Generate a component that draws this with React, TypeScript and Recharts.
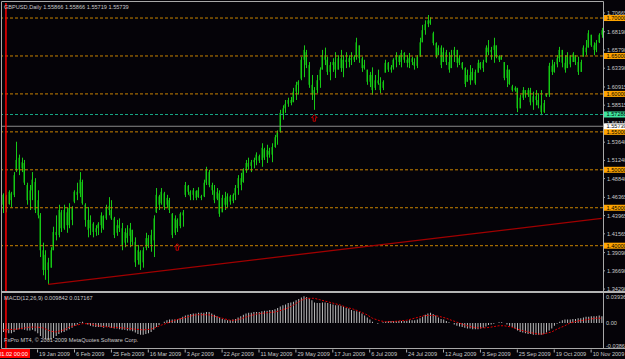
import { ComposedChart, Bar, Line, XAxis, YAxis, ReferenceLine, ReferenceDot } from 'recharts';

// GBPUSD daily, ~2009.01.01 .. 2009.11.16 (one entry per bar)
const highs = [
  1.469, 1.467, 1.473, 1.471, 1.497, 1.537, 1.520, 1.516, 1.513, 1.483,
  1.480, 1.497, 1.489, 1.473, 1.443, 1.404, 1.394, 1.384, 1.398, 1.425,
  1.440, 1.454, 1.447, 1.454, 1.450, 1.456, 1.452, 1.473, 1.483, 1.497,
  1.487, 1.456, 1.451, 1.440, 1.431, 1.427, 1.431, 1.444, 1.440, 1.454,
  1.464, 1.460, 1.438, 1.434, 1.436, 1.430, 1.423, 1.427, 1.430, 1.421,
  1.411, 1.401, 1.394, 1.398, 1.417, 1.414, 1.421, 1.440, 1.476, 1.467,
  1.476, 1.471, 1.467, 1.463, 1.443, 1.440, 1.436, 1.444, 1.447, 1.484,
  1.480, 1.473, 1.476, 1.473, 1.477, 1.467, 1.487, 1.504, 1.500, 1.483,
  1.480, 1.476, 1.473, 1.467, 1.471, 1.469, 1.467, 1.469, 1.480, 1.493,
  1.496, 1.502, 1.513, 1.516, 1.513, 1.516, 1.523, 1.520, 1.535, 1.529,
  1.533, 1.529, 1.535, 1.546, 1.552, 1.579, 1.585, 1.592, 1.595, 1.596,
  1.608, 1.616, 1.618, 1.649, 1.664, 1.658, 1.642, 1.625, 1.609, 1.625,
  1.635, 1.658, 1.661, 1.649, 1.642, 1.647, 1.655, 1.651, 1.658, 1.651,
  1.655, 1.651, 1.655, 1.651, 1.674, 1.664, 1.649, 1.645, 1.632, 1.629,
  1.635, 1.625, 1.632, 1.622, 1.618, 1.645, 1.642, 1.638, 1.647, 1.655,
  1.651, 1.658, 1.655, 1.651, 1.654, 1.649, 1.647, 1.651, 1.674, 1.691,
  1.697, 1.704, 1.701, 1.682, 1.668, 1.664, 1.664, 1.661, 1.658, 1.655,
  1.658, 1.662, 1.658, 1.651, 1.642, 1.635, 1.632, 1.638, 1.634, 1.632,
  1.645, 1.642, 1.645, 1.664, 1.671, 1.662, 1.674, 1.664, 1.651, 1.651,
  1.642, 1.638, 1.632, 1.612, 1.610, 1.608, 1.599, 1.609, 1.605, 1.608,
  1.608, 1.603, 1.605, 1.601, 1.605, 1.592, 1.601, 1.641, 1.645, 1.642,
  1.651, 1.662, 1.658, 1.651, 1.655, 1.651, 1.655, 1.651, 1.649, 1.645,
  1.664, 1.671, 1.684, 1.678, 1.668, 1.671, 1.680, 1.687,
];
const lows = [
  1.443, 1.444, 1.454, 1.451, 1.464, 1.497, 1.493, 1.497, 1.480, 1.454,
  1.447, 1.460, 1.443, 1.436, 1.385, 1.361, 1.355, 1.349, 1.371, 1.394,
  1.407, 1.411, 1.418, 1.421, 1.417, 1.423, 1.427, 1.456, 1.460, 1.464,
  1.454, 1.425, 1.411, 1.414, 1.411, 1.413, 1.414, 1.417, 1.421, 1.434,
  1.440, 1.434, 1.410, 1.413, 1.418, 1.394, 1.398, 1.404, 1.398, 1.401,
  1.372, 1.375, 1.368, 1.371, 1.394, 1.397, 1.392, 1.385, 1.443, 1.447,
  1.454, 1.447, 1.450, 1.443, 1.410, 1.414, 1.418, 1.423, 1.425, 1.464,
  1.467, 1.460, 1.460, 1.460, 1.463, 1.460, 1.464, 1.480, 1.477, 1.467,
  1.456, 1.460, 1.438, 1.444, 1.447, 1.451, 1.454, 1.456, 1.460, 1.467,
  1.473, 1.483, 1.496, 1.500, 1.497, 1.502, 1.506, 1.509, 1.504, 1.513,
  1.509, 1.516, 1.510, 1.529, 1.533, 1.549, 1.566, 1.575, 1.583, 1.585,
  1.589, 1.592, 1.599, 1.618, 1.622, 1.634, 1.608, 1.592, 1.579, 1.601,
  1.608, 1.632, 1.638, 1.625, 1.618, 1.629, 1.621, 1.632, 1.629, 1.622,
  1.634, 1.635, 1.638, 1.642, 1.645, 1.641, 1.629, 1.632, 1.612, 1.609,
  1.599, 1.605, 1.612, 1.601, 1.605, 1.628, 1.629, 1.628, 1.632, 1.635,
  1.638, 1.635, 1.641, 1.635, 1.634, 1.638, 1.632, 1.634, 1.649, 1.668,
  1.678, 1.688, 1.691, 1.664, 1.647, 1.651, 1.634, 1.642, 1.638, 1.628,
  1.634, 1.642, 1.635, 1.638, 1.632, 1.609, 1.616, 1.612, 1.618, 1.612,
  1.628, 1.632, 1.629, 1.641, 1.651, 1.645, 1.641, 1.647, 1.642, 1.645,
  1.618, 1.609, 1.612, 1.603, 1.603, 1.576, 1.581, 1.592, 1.595, 1.596,
  1.585, 1.579, 1.585, 1.581, 1.572, 1.575, 1.596, 1.596, 1.625, 1.628,
  1.635, 1.642, 1.635, 1.628, 1.634, 1.635, 1.642, 1.638, 1.625, 1.629,
  1.649, 1.651, 1.661, 1.662, 1.651, 1.655, 1.667, 1.674,
];
const opens = [
  1.454, 1.465, 1.455, 1.469, 1.467, 1.500, 1.516, 1.502, 1.509, 1.480,
  1.460, 1.473, 1.484, 1.460, 1.440, 1.394, 1.368, 1.378, 1.371, 1.394,
  1.418, 1.414, 1.444, 1.423, 1.444, 1.427, 1.450, 1.458, 1.471, 1.469,
  1.484, 1.454, 1.434, 1.423, 1.429, 1.418, 1.423, 1.427, 1.439, 1.436,
  1.452, 1.447, 1.436, 1.417, 1.427, 1.423, 1.404, 1.417, 1.413, 1.421,
  1.405, 1.381, 1.392, 1.378, 1.397, 1.410, 1.402, 1.407, 1.444, 1.465,
  1.456, 1.469, 1.454, 1.460, 1.442, 1.417, 1.434, 1.426, 1.440, 1.467,
  1.479, 1.471, 1.467, 1.472, 1.464, 1.465, 1.465, 1.483, 1.497, 1.480,
  1.473, 1.462, 1.469, 1.444, 1.463, 1.454, 1.465, 1.459, 1.467, 1.476,
  1.489, 1.484, 1.500, 1.509, 1.505, 1.510, 1.513, 1.518, 1.513, 1.527,
  1.517, 1.525, 1.520, 1.530, 1.543, 1.550, 1.574, 1.581, 1.587, 1.592,
  1.589, 1.603, 1.612, 1.620, 1.645, 1.655, 1.638, 1.612, 1.599, 1.605,
  1.618, 1.632, 1.651, 1.645, 1.629, 1.638, 1.642, 1.632, 1.647, 1.634,
  1.645, 1.642, 1.647, 1.645, 1.649, 1.664, 1.647, 1.634, 1.632, 1.616,
  1.625, 1.608, 1.618, 1.614, 1.608, 1.628, 1.641, 1.632, 1.635, 1.645,
  1.651, 1.642, 1.654, 1.645, 1.641, 1.647, 1.642, 1.637, 1.649, 1.668,
  1.684, 1.692, 1.697, 1.680, 1.667, 1.651, 1.661, 1.642, 1.655, 1.642,
  1.634, 1.651, 1.658, 1.641, 1.641, 1.634, 1.616, 1.625, 1.618, 1.629,
  1.628, 1.641, 1.634, 1.642, 1.661, 1.655, 1.658, 1.664, 1.650, 1.645,
  1.642, 1.621, 1.632, 1.610, 1.605, 1.608, 1.581, 1.595, 1.605, 1.599,
  1.605, 1.589, 1.597, 1.592, 1.585, 1.576, 1.597, 1.599, 1.637, 1.629,
  1.639, 1.647, 1.658, 1.641, 1.634, 1.651, 1.642, 1.651, 1.642, 1.629,
  1.649, 1.661, 1.661, 1.678, 1.664, 1.658, 1.668, 1.678,
];
const closes = [
  1.467, 1.450, 1.471, 1.460, 1.493, 1.513, 1.500, 1.510, 1.483, 1.460,
  1.473, 1.487, 1.447, 1.440, 1.394, 1.368, 1.388, 1.368, 1.394, 1.418,
  1.414, 1.447, 1.423, 1.447, 1.427, 1.450, 1.434, 1.471, 1.467, 1.487,
  1.456, 1.434, 1.421, 1.434, 1.418, 1.423, 1.429, 1.440, 1.423, 1.450,
  1.447, 1.436, 1.414, 1.427, 1.423, 1.401, 1.418, 1.410, 1.423, 1.405,
  1.378, 1.394, 1.375, 1.394, 1.410, 1.401, 1.414, 1.436, 1.467, 1.454,
  1.471, 1.451, 1.463, 1.447, 1.414, 1.436, 1.423, 1.442, 1.444, 1.480,
  1.471, 1.465, 1.473, 1.463, 1.473, 1.463, 1.483, 1.500, 1.480, 1.473,
  1.460, 1.471, 1.442, 1.463, 1.454, 1.465, 1.458, 1.467, 1.476, 1.489,
  1.480, 1.500, 1.509, 1.504, 1.510, 1.513, 1.520, 1.512, 1.529, 1.516,
  1.526, 1.520, 1.530, 1.543, 1.549, 1.575, 1.581, 1.587, 1.592, 1.588,
  1.603, 1.612, 1.616, 1.645, 1.658, 1.638, 1.612, 1.599, 1.605, 1.618,
  1.632, 1.651, 1.645, 1.629, 1.638, 1.642, 1.632, 1.647, 1.634, 1.645,
  1.642, 1.647, 1.645, 1.649, 1.668, 1.647, 1.634, 1.638, 1.616, 1.625,
  1.605, 1.618, 1.614, 1.605, 1.616, 1.641, 1.632, 1.635, 1.645, 1.651,
  1.642, 1.654, 1.645, 1.641, 1.647, 1.642, 1.637, 1.649, 1.668, 1.684,
  1.692, 1.697, 1.693, 1.667, 1.651, 1.661, 1.638, 1.655, 1.642, 1.632,
  1.651, 1.658, 1.641, 1.647, 1.634, 1.613, 1.625, 1.618, 1.629, 1.614,
  1.641, 1.634, 1.642, 1.661, 1.655, 1.658, 1.664, 1.650, 1.645, 1.649,
  1.621, 1.632, 1.613, 1.605, 1.608, 1.581, 1.595, 1.605, 1.599, 1.605,
  1.589, 1.597, 1.592, 1.585, 1.576, 1.588, 1.600, 1.637, 1.629, 1.639,
  1.647, 1.658, 1.641, 1.632, 1.651, 1.639, 1.653, 1.642, 1.629, 1.642,
  1.661, 1.655, 1.680, 1.664, 1.658, 1.667, 1.678, 1.684,
];

// MACD(12,26,9) histogram, one per bar
const macdHist = [
  -0.013, -0.014, -0.015, -0.015, -0.013, -0.010, -0.009, -0.009, -0.010, -0.011,
  -0.011, -0.010, -0.012, -0.015, -0.019, -0.022, -0.024, -0.025, -0.024, -0.022,
  -0.019, -0.016, -0.014, -0.013, -0.011, -0.009, -0.007, -0.004, -0.002, 0.001,
  0.002, 0.000, -0.002, -0.004, -0.005, -0.006, -0.006, -0.006, -0.007, -0.006,
  -0.006, -0.007, -0.008, -0.008, -0.009, -0.010, -0.010, -0.011, -0.011, -0.012,
  -0.014, -0.016, -0.017, -0.017, -0.016, -0.015, -0.013, -0.010, -0.006, -0.003,
  0.000, 0.002, 0.004, 0.005, 0.005, 0.005, 0.006, 0.007, 0.009, 0.011,
  0.012, 0.013, 0.014, 0.014, 0.015, 0.015, 0.015, 0.016, 0.016, 0.014,
  0.012, 0.010, 0.008, 0.006, 0.005, 0.004, 0.004, 0.005, 0.006, 0.008,
  0.010, 0.012, 0.014, 0.015, 0.015, 0.016, 0.016, 0.016, 0.017, 0.018,
  0.018, 0.019, 0.019, 0.020, 0.022, 0.024, 0.026, 0.027, 0.029, 0.030,
  0.031, 0.033, 0.035, 0.037, 0.039, 0.038, 0.036, 0.033, 0.030, 0.029,
  0.029, 0.030, 0.030, 0.029, 0.028, 0.027, 0.026, 0.026, 0.025, 0.024,
  0.022, 0.021, 0.019, 0.018, 0.017, 0.016, 0.014, 0.011, 0.008, 0.005,
  0.002, 0.000, -0.001, 0.000, 0.001, 0.002, 0.003, 0.003, 0.003, 0.003,
  0.003, 0.003, 0.003, 0.003, 0.004, 0.004, 0.004, 0.005, 0.007, 0.009,
  0.012, 0.014, 0.015, 0.013, 0.011, 0.008, 0.006, 0.005, 0.003, 0.001,
  0.000, -0.002, -0.004, -0.005, -0.006, -0.007, -0.008, -0.008, -0.009, -0.009,
  -0.009, -0.008, -0.007, -0.005, -0.003, -0.002, -0.001, 0.000, 0.001, 0.001,
  0.000, -0.002, -0.004, -0.006, -0.008, -0.011, -0.013, -0.014, -0.015, -0.016,
  -0.016, -0.017, -0.017, -0.017, -0.017, -0.016, -0.014, -0.011, -0.008, -0.004,
  -0.001, 0.002, 0.004, 0.005, 0.005, 0.005, 0.006, 0.006, 0.007, 0.007,
  0.008, 0.009, 0.009, 0.010, 0.010, 0.010, 0.011, 0.010,
];
// signal line, read at [bar index, value]
const signalPoints: [number, number][] = [
  [0, -0.010], [5, -0.009], [10, -0.006], [13, -0.006], [15, -0.007], [18, -0.012], [20, -0.013],
  [23, -0.010], [25, -0.006], [28, -0.003], [30, -0.001], [33, -0.001], [36, -0.004], [40, -0.006],
  [45, -0.007], [50, -0.009], [53, -0.010], [56, -0.009], [58, -0.006], [60, -0.003], [63, 0.001],
  [65, 0.004], [68, 0.007], [70, 0.009], [73, 0.012], [78, 0.012], [80, 0.010], [83, 0.007],
  [86, 0.004], [88, 0.004], [90, 0.006], [93, 0.010], [96, 0.013], [100, 0.015], [103, 0.016],
  [105, 0.018], [108, 0.022], [110, 0.026], [113, 0.033], [115, 0.036], [118, 0.036], [120, 0.034],
  [123, 0.031], [125, 0.029], [128, 0.026], [130, 0.023], [133, 0.020], [135, 0.017], [138, 0.012],
  [140, 0.007], [143, 0.003], [145, 0.002], [148, 0.002], [150, 0.003], [153, 0.004], [155, 0.006],
  [158, 0.009], [160, 0.011], [163, 0.011], [165, 0.010], [168, 0.007], [170, 0.004], [173, 0.000],
  [175, -0.003], [178, -0.006], [180, -0.007], [183, -0.007], [185, -0.006], [188, -0.004],
  [190, -0.004], [193, -0.006], [195, -0.009], [198, -0.012], [200, -0.014], [203, -0.016],
  [205, -0.016], [208, -0.013], [210, -0.009], [213, -0.004], [215, 0.000], [218, 0.003],
  [220, 0.004], [223, 0.006], [225, 0.007], [227, 0.007],
];

const priceTicks = [
  1.70665, 1.6819, 1.6579, 1.6339, 1.60915, 1.58515, 1.56115, 1.5364,
  1.5124, 1.4884, 1.46365, 1.43965, 1.41565, 1.3909, 1.3669, 1.3429,
];
const levelPrices = [1.7, 1.65, 1.6, 1.55, 1.5, 1.45, 1.4];
const tealLevel = 1.57288;
const bidPrice = 1.55739;
const trendStart = { i: 17, price: 1.349 };
const trendEnd = { i: 227, price: 1.436 };
const arrowMarks = [
  { i: 66, price: 1.398 },
  { i: 118, price: 1.568 },
];
const vlineIdx = 1;
const timeTickIdx = [13, 27, 41, 55, 69, 83, 97, 111, 125, 139, 153, 167, 181, 195, 209, 223];
const timeTickLabels = [
  '19 Jan 2009', '6 Feb 2009', '25 Feb 2009', '16 Mar 2009', '3 Apr 2009', '22 Apr 2009',
  '11 May 2009', '29 May 2009', '17 Jun 2009', '6 Jul 2009', '24 Jul 2009', '12 Aug 2009',
  '3 Sep 2009', '25 Sep 2009', '19 Oct 2009', '10 Nov 2009',
];
const macdTicks = [0.03936, 0, -0.03861];

const signalByIdx = new Map(signalPoints);
const rows = highs.map((h, i) => ({
  i,
  high: h,
  low: lows[i],
  open: opens[i],
  close: closes[i],
  range: [lows[i], h],
  macd: macdHist[i],
  signal: signalByIdx.has(i) ? signalByIdx.get(i) : null,
}));

const FONT = 'Liberation Sans, Arial, sans-serif';
const FS = 5.6;
const TXT = '#c8c8c8';
const BG = '#050308';

const Candle = (props: any) => {
  const { x, y, width, height, payload } = props;
  const top = Math.min(y, y + height);
  const h = Math.abs(height);
  const k = h / (payload.high - payload.low || 1);
  const cx = Math.round(x + width / 2);
  const bTop = top + (payload.high - Math.max(payload.open, payload.close)) * k;
  const bH = Math.max(1, Math.abs(payload.open - payload.close) * k);
  return (
    <g>
      <rect x={cx - 1} y={bTop} width={2} height={bH} fill="#086608" />
      <line x1={cx + 0.5} x2={cx + 0.5} y1={top} y2={top + h} stroke="#16c816" strokeWidth={1} />
    </g>
  );
};

const PriceTick = (props: any) => {
  const { x, y, payload } = props;
  return (
    <g>
      <line x1={x} x2={x + 2} y1={y} y2={y} stroke="#a0a0a0" />
      <text x={x + 4} y={y + 2} fontSize={FS} fontFamily={FONT} fill={TXT}>
        {payload.value.toFixed(5)}
      </text>
    </g>
  );
};

const MacdTick = (props: any) => {
  const { x, y, payload } = props;
  const v = payload.value;
  const dy = v > 0 ? 2.5 : v < 0 ? -1.5 : 2;
  return (
    <text x={x + 3} y={y + dy} fontSize={FS} fontFamily={FONT} fill={TXT}>
      {v === 0 ? '0.00' : v.toFixed(5)}
    </text>
  );
};

const TimeTick = (props: any) => {
  const { x, y, payload } = props;
  const n = timeTickIdx.indexOf(payload.value);
  return (
    <g>
      <line x1={x} x2={x} y1={y} y2={y + 3} stroke="#b0b0b0" />
      <text x={x + 1.5} y={y + 6.8} fontSize={FS} fontFamily={FONT} fill={TXT}>
        {timeTickLabels[n]}
      </text>
    </g>
  );
};

const tag = (text: string, fill: string) => (props: any) => {
  const vb = props.viewBox || {};
  const xr = (vb.x || 0) + (vb.width || 0);
  return (
    <g>
      <rect x={xr + 1} y={vb.y - 3} width={24} height={6} fill={fill} />
      <text x={xr + 3.5} y={vb.y + 2} fontSize={FS} fontFamily={FONT} fill="#000">
        {text}
      </text>
    </g>
  );
};

const UpArrow = (props: any) => {
  const { cx, cy } = props;
  const d = `M${cx},${cy - 3.5} L${cx + 2.8},${cy - 0.5} L${cx + 1.2},${cy - 0.5} L${cx + 1.2},${cy + 3} L${cx - 1.2},${cy + 3} L${cx - 1.2},${cy - 0.5} L${cx - 2.8},${cy - 0.5} Z`;
  return <path d={d} fill="none" stroke="#c00000" strokeWidth={1} />;
};

export default function App() {
  return (
    <div
      style={{
        position: 'absolute',
        left: 0,
        top: 0,
        width: 625,
        height: 359,
        background: BG,
        overflow: 'hidden',
      }}
    >
      {/* ─── price window ─── */}
      <div style={{ position: 'absolute', left: 0, top: 0 }}>
        <ComposedChart width={625} height={292} data={rows} margin={{ top: 3, right: 0, left: 2, bottom: 1 }}>
          <XAxis dataKey="i" type="category" hide />
          <YAxis
            orientation="right"
            width={22}
            domain={[1.3403, 1.7198]}
            allowDataOverflow
            ticks={priceTicks}
            interval={0}
            axisLine={false}
            tickLine={false}
            tickSize={0}
            tickMargin={0}
            tick={<PriceTick />}
          />
          {levelPrices.map((p) => (
            <ReferenceLine
              key={p}
              y={p}
              stroke="#c98300"
              strokeDasharray="3 2"
              label={tag(p.toFixed(5), '#ffa500')}
            />
          ))}
          <ReferenceLine y={tealLevel} stroke="#16a585" strokeDasharray="3 2" label={tag(tealLevel.toFixed(5), '#3ee6a0')} />
          <ReferenceLine y={bidPrice} stroke="#8a8a8a" label={tag(bidPrice.toFixed(5), '#ffffff')} />
          <ReferenceLine x={vlineIdx} stroke="#ff0000" strokeWidth={1.5} />
          <ReferenceLine
            segment={[
              { x: trendStart.i, y: trendStart.price },
              { x: trendEnd.i, y: trendEnd.price },
            ]}
            stroke="#a00000"
            strokeWidth={1.3}
          />
          <Bar dataKey="range" shape={<Candle />} isAnimationActive={false} />
          {arrowMarks.map((m) => (
            <ReferenceDot key={m.i} x={m.i} y={m.price} r={3} shape={<UpArrow />} />
          ))}
        </ComposedChart>
      </div>

      {/* ─── MACD window ─── */}
      <div style={{ position: 'absolute', left: 0, top: 293 }}>
        <ComposedChart width={625} height={66} data={rows} margin={{ top: 3, right: 0, left: 2, bottom: 0 }}>
          <XAxis
            dataKey="i"
            type="category"
            height={9.5}
            ticks={timeTickIdx}
            interval={0}
            axisLine={false}
            tickLine={false}
            tickSize={0}
            tickMargin={0}
            tick={<TimeTick />}
          />
          <YAxis
            orientation="right"
            width={22}
            domain={[-0.03861, 0.03936]}
            allowDataOverflow
            ticks={macdTicks}
            interval={0}
            axisLine={false}
            tickLine={false}
            tickSize={0}
            tickMargin={0}
            tick={<MacdTick />}
          />
          <ReferenceLine x={vlineIdx} stroke="#ff0000" strokeWidth={1.5} />
          <Bar dataKey="macd" fill="#bdbdbd" barSize={1} isAnimationActive={false} />
          <Line
            dataKey="signal"
            stroke="#e00000"
            strokeWidth={1}
            strokeDasharray="2 1.5"
            dot={false}
            connectNulls
            isAnimationActive={false}
          />
        </ComposedChart>
      </div>

      {/* ─── frame + texts ─── */}
      <svg width={625} height={359} style={{ position: 'absolute', left: 0, top: 0, pointerEvents: 'none' }}>
        <line x1={1.5} x2={603.5} y1={1.5} y2={1.5} stroke="#a8a8a8" />
        <line x1={1.5} x2={1.5} y1={1.5} y2={348.5} stroke="#a8a8a8" />
        <line x1={603.5} x2={603.5} y1={1.5} y2={348.5} stroke="#a8a8a8" />
        <line x1={1.5} x2={625} y1={292} y2={292} stroke="#b4b4b4" strokeWidth={2} />
        <line x1={1.5} x2={625} y1={348.5} y2={348.5} stroke="#a8a8a8" />
        <text x={4} y={8.5} fontSize={FS} fontFamily={FONT} fill={TXT}>
          GBPUSD,Daily  1.55866 1.55866 1.55719 1.55739
        </text>
        <text x={4} y={300} fontSize={FS} fontFamily={FONT} fill={TXT}>
          MACD(12,26,9) 0.009842 0.017167
        </text>
        <text x={4} y={342} fontSize={FS} fontFamily={FONT} fill={TXT}>
          FxPro MT4, © 2001-2009 MetaQuotes Software Corp.
        </text>
        <rect x={0} y={349} width={30} height={9} fill="#ff0000" />
        <text x={6} y={356} fontSize={FS} fontFamily={FONT} fill="#ffffff" textAnchor="middle">
          2009.01.02 00:00
        </text>
      </svg>
    </div>
  );
}
